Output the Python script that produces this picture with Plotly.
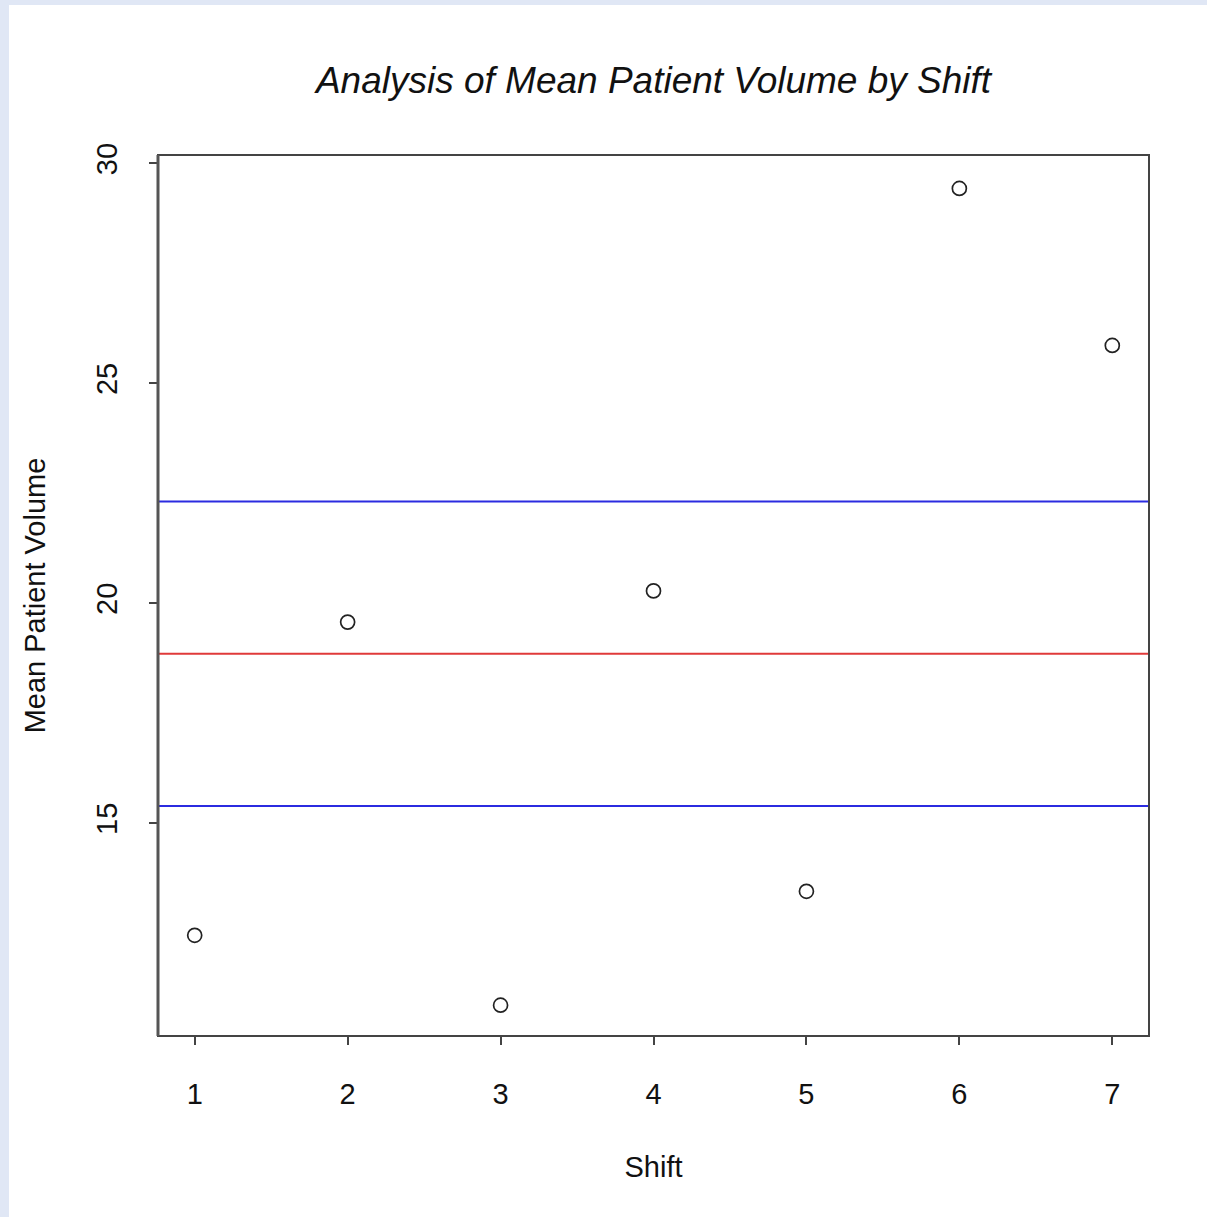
import plotly.graph_objects as go

# Mean patient volume for each shift
shifts = [1, 2, 3, 4, 5, 6, 7]
mean_volume = [12.45, 19.57, 10.86, 20.28, 13.45, 29.43, 25.86]

# Control lines: centre (grand mean) and upper/lower limits
center_line = 18.85
upper_limit = 22.31
lower_limit = 15.39

x_ticks = [1, 2, 3, 4, 5, 6, 7]
y_ticks = [15, 20, 25, 30]

W, H = 1207, 1217
L, R, T, B = 158, 58, 155, 181
pw, ph = W - L - R, H - T - B

font_family = "Liberation Sans, Arial, Helvetica, sans-serif"
axis_color = "#444444"

fig = go.Figure()

fig.add_trace(go.Scatter(
    x=shifts, y=mean_volume, mode="markers",
    marker=dict(symbol="circle-open", size=14, color="#222222",
                line=dict(width=1.7, color="#222222")),
    showlegend=False, hoverinfo="x+y",
))

for val, col in [(upper_limit, "#2b2be0"), (center_line, "#e03a3a"), (lower_limit, "#2b2be0")]:
    fig.add_shape(type="line", xref="paper", x0=0, x1=1, yref="y", y0=val, y1=val,
                  line=dict(color=col, width=2), layer="above")

# white page over the light blue backdrop
fig.add_shape(type="rect", xref="paper", yref="paper",
              x0=(9 - L) / pw, x1=(W - L) / pw + 0.01,
              y0=-(B + 5) / ph, y1=(H - B - 5) / ph,
              fillcolor="white", line=dict(width=0), layer="below")

# plot frame
fig.add_shape(type="rect", xref="paper", yref="paper", x0=0, x1=1, y0=0, y1=1,
              line=dict(color=axis_color, width=2), layer="above")
fig.add_shape(type="line", xref="paper", yref="paper", x0=0, x1=0, y0=0, y1=1,
              line=dict(color="#555555", width=3), layer="above")

fig.update_layout(
    width=W, height=H,
    margin=dict(l=L, r=R, t=T, b=B, pad=0),
    paper_bgcolor="#e0e7f5",
    plot_bgcolor="white",
    font=dict(family=font_family, color="#111111", size=29),
    title=dict(text="<i>Analysis of Mean Patient Volume by Shift</i>",
               x=0.5, xref="paper", xanchor="center",
               y=1 - 80 / H, yanchor="middle",
               font=dict(size=37, family=font_family, color="#111111")),
    xaxis=dict(
        range=[0.76, 7.24], tickvals=x_ticks, ticktext=[str(v) for v in x_ticks],
        showgrid=False, zeroline=False, showline=False,
        ticks="outside", ticklen=8, tickwidth=2, tickcolor=axis_color,
        tickfont=dict(size=29), ticklabelstandoff=24,
        title=dict(text="Shift", font=dict(size=29), standoff=47),
    ),
    yaxis=dict(
        range=[10.16, 30.19], tickvals=y_ticks, ticktext=[str(v) for v in y_ticks],
        showgrid=False, zeroline=False, showline=False,
        ticks="outside", ticklen=8, tickwidth=2, tickcolor=axis_color,
        tickangle=-90, tickfont=dict(size=29), ticklabelstandoff=20,
        title=dict(text="Mean Patient Volume", font=dict(size=29), standoff=37),
    ),
)

fig.write_html("out.html")
